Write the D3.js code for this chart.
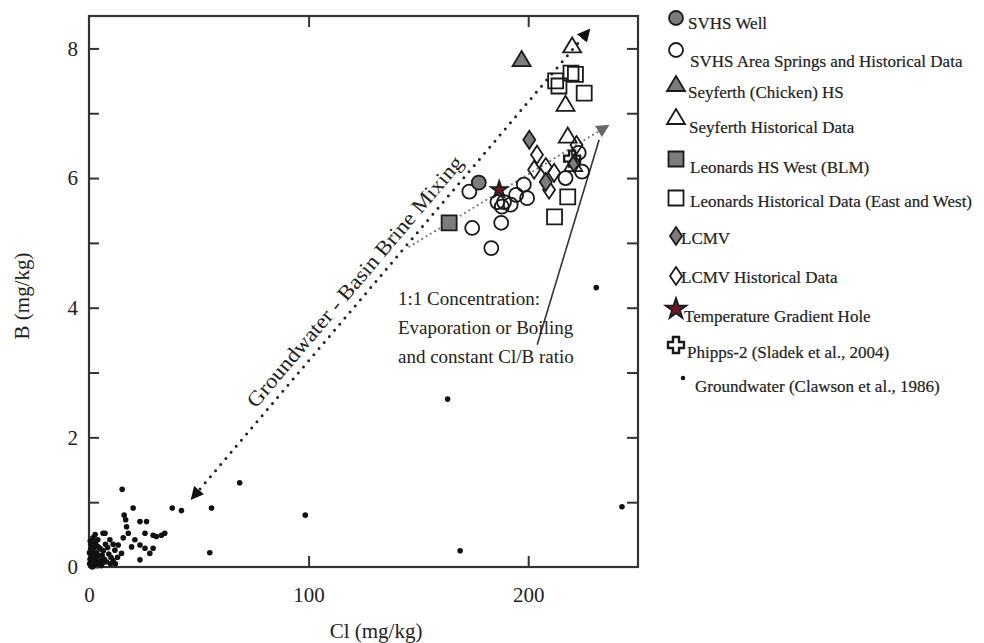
<!DOCTYPE html>
<html><head><meta charset="utf-8">
<script src="https://cdn.jsdelivr.net/npm/d3@7"></script>
<style>
body{margin:0;background:#fff}
svg{display:block}
text{font-family:"Liberation Serif","Times New Roman",serif;fill:#222}
</style>
</head><body>
<svg id="c" width="984" height="643"></svg>
<script>
// ---------------- DATA ----------------
const xTicks = [0, 100, 200];
const yTicks = [0, 1, 2, 3, 4, 5, 6, 7, 8];
const yTickLabels = ["0", "", "2", "", "4", "", "6", "", "8"];

const svhsWell = [[177.5, 5.93]];
const svhsHistorical = [[173.2, 5.79], [186, 5.63], [189, 5.63], [192, 5.59], [188, 5.56], [194.5, 5.74],
  [199.5, 5.69], [198, 5.9], [174.5, 5.23], [187.7, 5.31], [183.2, 4.92], [217, 6.0], [223, 6.39], [224.5, 6.1]];
const seyferthHS = [[197, 7.82]];
const seyferthHistorical = [[220, 8.03], [217, 7.13], [218, 6.64], [220.5, 6.2]];
const leonardsWest = [[164, 5.31]];
const leonardsHistorical = [[212.5, 7.5], [214, 7.42], [219.5, 7.62], [221.5, 7.6], [225.5, 7.31], [218, 5.71], [212, 5.4]];
const lcmv = [[200.5, 6.59], [208, 5.94], [221, 6.23]];
const lcmvHistorical = [[204, 6.36], [202.7, 6.13], [208, 6.17], [211.8, 6.08], [209.5, 5.82], [222, 6.51]];
const tempGradientHole = [[186.8, 5.82]];
const phipps2 = [[220, 6.3]];
const groundwater = [
  [1, 0.05], [2, 0.1], [3, 0.15], [1.5, 0.2], [2.5, 0.3], [4, 0.05], [5, 0.1], [3.5, 0.22], [6, 0.18], [0.5, 0.12],
  [1, 0.35], [4.5, 0.3], [7, 0.12], [8, 0.08], [6.5, 0.25], [2, 0.02], [5.5, 0.02], [9, 0.2], [3, 0.38], [0.8, 0.27],
  [10, 0.15], [11, 0.1], [4, 0.42], [7.3, 0.52], [9.5, 0.42], [12, 0.05], [6.4, 0.52],
  [0.3, 0.05], [1.2, 0.15], [2.2, 0.22], [3.2, 0.08], [4.2, 0.18], [5.2, 0.28], [6.2, 0.06], [0.6, 0.4], [1.8, 0.45],
  [2.8, 0.5], [8.5, 0.3], [7.5, 0.35], [3.8, 0.32], [0.2, 0.22], [9.8, 0.05], [13, 0.15], [11, 0.35], [1.5, 0.0],
  [15.1, 1.2], [20.1, 0.91], [37.9, 0.91], [42.1, 0.87], [16, 0.8], [16.7, 0.73], [23.2, 0.7], [26.2, 0.7],
  [17.1, 0.62], [17.9, 0.52], [25.5, 0.52], [29.2, 0.49], [30.7, 0.47], [34.5, 0.52], [33, 0.49], [15.6, 0.45],
  [20.9, 0.42], [23.2, 0.34], [13.3, 0.34], [29.2, 0.29], [25.5, 0.29], [11.8, 0.26], [14.8, 0.21], [27.7, 0.21],
  [23.2, 0.11], [19.4, 0.31],
  [68.6, 1.3], [55.8, 0.91], [55, 0.22], [98.5, 0.8], [163.3, 2.59], [169, 0.25], [242.7, 0.93], [231, 4.31]];

// annotation lines (data units)
const mixingLine = [[48.2, 1.11], [226.4, 8.23]];
const evapLine = [[145.9, 4.94], [234.5, 6.77]];
const pointerLine = [[204.1, 3.43], [232.3, 6.59]];
const mixingLabel = "Groundwater - Basin Brine Mixing";
const evapLabel = ["1:1 Concentration:", "Evaporation or Boiling", "and constant Cl/B ratio"];

const series = [
  {name: "SVHS Well", data: svhsWell, shape: "circle", fill: "#7d7d7d"},
  {name: "SVHS Area Springs and Historical Data", data: svhsHistorical, shape: "circle", fill: "none"},
  {name: "Seyferth (Chicken) HS", data: seyferthHS, shape: "triangle", fill: "#7d7d7d"},
  {name: "Seyferth Historical Data", data: seyferthHistorical, shape: "triangle", fill: "none"},
  {name: "Leonards HS West (BLM)", data: leonardsWest, shape: "square", fill: "#7d7d7d"},
  {name: "Leonards Historical Data (East and West)", data: leonardsHistorical, shape: "square", fill: "none"},
  {name: "LCMV", data: lcmv, shape: "diamond", fill: "#7d7d7d"},
  {name: "LCMV Historical Data", data: lcmvHistorical, shape: "diamond", fill: "none"},
  {name: "Temperature Gradient Hole", data: tempGradientHole, shape: "star", fill: "#6e1b28"},
  {name: "Phipps-2 (Sladek et al., 2004)", data: phipps2, shape: "cross", fill: "#fff"},
  {name: "Groundwater (Clawson et al., 1986)", data: groundwater, shape: "dot", fill: "#111"}
];

// ---------------- LAYOUT ----------------
const x = d3.scaleLinear().domain([0, 250]).range([89, 638]);
const y = d3.scaleLinear().domain([0, 8.5]).range([567, 16]);
const svg = d3.select("#c");

function shapePath(shape, k) {
  k = k || 1;
  switch (shape) {
    case "circle": { const r = 7 * k; return `M${r},0A${r},${r} 0 1 1 ${-r},0A${r},${r} 0 1 1 ${r},0Z`; }
    case "triangle": return `M0,${-9*k}L${9*k},${6*k}L${-9*k},${6*k}Z`;
    case "square": { const s = 7.5 * k; return `M${-s},${-s}H${s}V${s}H${-s}Z`; }
    case "diamond": return `M0,${-9*k}L${6*k},0L0,${9*k}L${-6*k},0Z`;
    case "star": return d3.symbol(d3.symbolStar, 85 * k * k)();
    case "cross": { const a = 3 * k, b = 8 * k; return `M${-a},${-b}H${a}V${-a}H${b}V${a}H${a}V${b}H${-a}V${a}H${-b}V${-a}H${-a}Z`; }
    case "dot": { const r = 2.8 * k; return `M${r},0A${r},${r} 0 1 1 ${-r},0A${r},${r} 0 1 1 ${r},0Z`; }
  }
}

// arrow markers
const defs = svg.append("defs");
defs.append("marker").attr("id", "arrB").attr("viewBox", "0 0 10 10").attr("refX", 5).attr("refY", 5)
  .attr("markerWidth", 13).attr("markerHeight", 13).attr("markerUnits", "userSpaceOnUse")
  .attr("orient", "auto-start-reverse")
  .append("path").attr("d", "M0,0L10,5L0,10Z").attr("fill", "#111");
defs.append("marker").attr("id", "arrG").attr("viewBox", "0 0 10 10").attr("refX", 5).attr("refY", 5)
  .attr("markerWidth", 13).attr("markerHeight", 13).attr("markerUnits", "userSpaceOnUse")
  .attr("orient", "auto")
  .append("path").attr("d", "M0,0L10,5L0,10Z").attr("fill", "#666");

// frame & axes
const axisStyle = g => {
  g.select(".domain").remove();
  g.attr("font-family", null);
  g.selectAll(".tick line").attr("stroke", "#333").attr("stroke-width", 2);
  g.selectAll(".tick text").style("font-size", "21px").attr("fill", "#222");
};
svg.append("g").attr("transform", `translate(${x(0)},0)`)
  .call(d3.axisLeft(y).tickValues(yTicks).tickSize(-10).tickPadding(11).tickFormat((d, i) => yTickLabels[i]))
  .call(axisStyle);
svg.append("g").attr("transform", `translate(${x(250)},0)`)
  .call(d3.axisRight(y).tickValues(yTicks.slice(1)).tickSize(-11).tickFormat(""))
  .call(axisStyle);
svg.append("g").attr("transform", `translate(0,${y(0)})`)
  .call(d3.axisBottom(x).tickValues(xTicks).tickSize(-11).tickPadding(20).tickFormat(d3.format("d")))
  .call(axisStyle);
svg.append("g").attr("transform", `translate(0,${y(8.5)})`)
  .call(d3.axisTop(x).tickValues(xTicks.slice(1)).tickSize(-11).tickFormat(""))
  .call(axisStyle);
svg.append("rect").attr("x", x(0)).attr("y", y(8.5)).attr("width", x(250) - x(0)).attr("height", y(0) - y(8.5))
  .attr("fill", "none").attr("stroke", "#333").attr("stroke-width", 2.2);

// axis titles
svg.append("text").attr("x", 376).attr("y", 638).attr("text-anchor", "middle").style("font-size", "21px").text("Cl (mg/kg)");
svg.append("text").attr("transform", "translate(29,296) rotate(-90)").attr("text-anchor", "middle").style("font-size", "21px").text("B (mg/kg)");

// annotation lines
const line = d3.line().x(d => x(d[0])).y(d => y(d[1]));
svg.append("path").attr("d", line(mixingLine)).attr("fill", "none").attr("stroke", "#222")
  .attr("stroke-width", 3).attr("stroke-linecap", "round").attr("stroke-dasharray", "0,8")
  .attr("marker-start", "url(#arrB)").attr("marker-end", "url(#arrB)");
svg.append("path").attr("d", line(evapLine)).attr("fill", "none").attr("stroke", "#777")
  .attr("stroke-width", 2.2).attr("stroke-linecap", "round").attr("stroke-dasharray", "0,5")
  .attr("marker-end", "url(#arrG)");
svg.append("path").attr("d", line(pointerLine)).attr("fill", "none").attr("stroke", "#333").attr("stroke-width", 1.6);

// mixing label along line (offset to the upper-left side of the line)
{
  const p0 = [x(mixingLine[0][0]), y(mixingLine[0][1])], p1 = [x(mixingLine[1][0]), y(mixingLine[1][1])];
  const dx = p1[0] - p0[0], dy = p1[1] - p0[1], L = Math.hypot(dx, dy);
  const ux = dx / L, uy = dy / L, nx = uy, ny = -ux;
  const t = 0.44 * L, off = 9;
  const cx = p0[0] + ux * t + nx * off, cy = p0[1] + uy * t + ny * off;
  const ang = Math.atan2(dy, dx) * 180 / Math.PI;
  svg.append("text").attr("transform", `translate(${cx},${cy})rotate(${ang})`)
    .attr("text-anchor", "middle").style("font-size", "21px")
    .attr("textLength", 322).attr("lengthAdjust", "spacingAndGlyphs").text(mixingLabel);
}

// evaporation label
svg.append("g").selectAll("text").data(evapLabel).join("text")
  .attr("x", 398).attr("y", (d, i) => 305 + i * 29).style("font-size", "19px").text(d => d);

// markers
const plot = svg.append("g");
series.slice().reverse().forEach(s => {
  plot.selectAll(null).data(s.data).join("path")
    .attr("transform", d => `translate(${x(d[0])},${y(d[1])})`)
    .attr("d", shapePath(s.shape))
    .attr("fill", s.fill)
    .attr("stroke", s.shape === "dot" ? "none" : "#1a1a1a")
    .attr("stroke-width", s.shape === "cross" ? 2.4 : 1.8);
});

// legend
const legendMarkerY = [18, 50, 85, 118, 159, 198, 236, 276, 309, 345, 378];
const legendTextY = [29, 67, 98, 133, 173, 207, 244, 283, 322, 358, 392];
const legendTextX = [688, 690, 688, 689, 690, 690, 681, 681, 684, 687, 695];
const leg = svg.append("g");
series.forEach((s, i) => {
  leg.append("path").attr("transform", `translate(${s.shape === "dot" ? 683 : 676},${legendMarkerY[i]})`)
    .attr("d", shapePath(s.shape, s.shape === "star" ? 1.25 : (s.shape === "dot" ? 0.8 : 1)))
    .attr("fill", s.fill).attr("stroke", s.shape === "dot" ? "none" : "#1a1a1a")
    .attr("stroke-width", s.shape === "cross" ? 2.4 : 1.8);
  leg.append("text").attr("x", legendTextX[i]).attr("y", legendTextY[i]).style("font-size", "17px")
    .attr("stroke", "#222").attr("stroke-width", 0.2).text(s.name);
});
</script>
</body></html>
